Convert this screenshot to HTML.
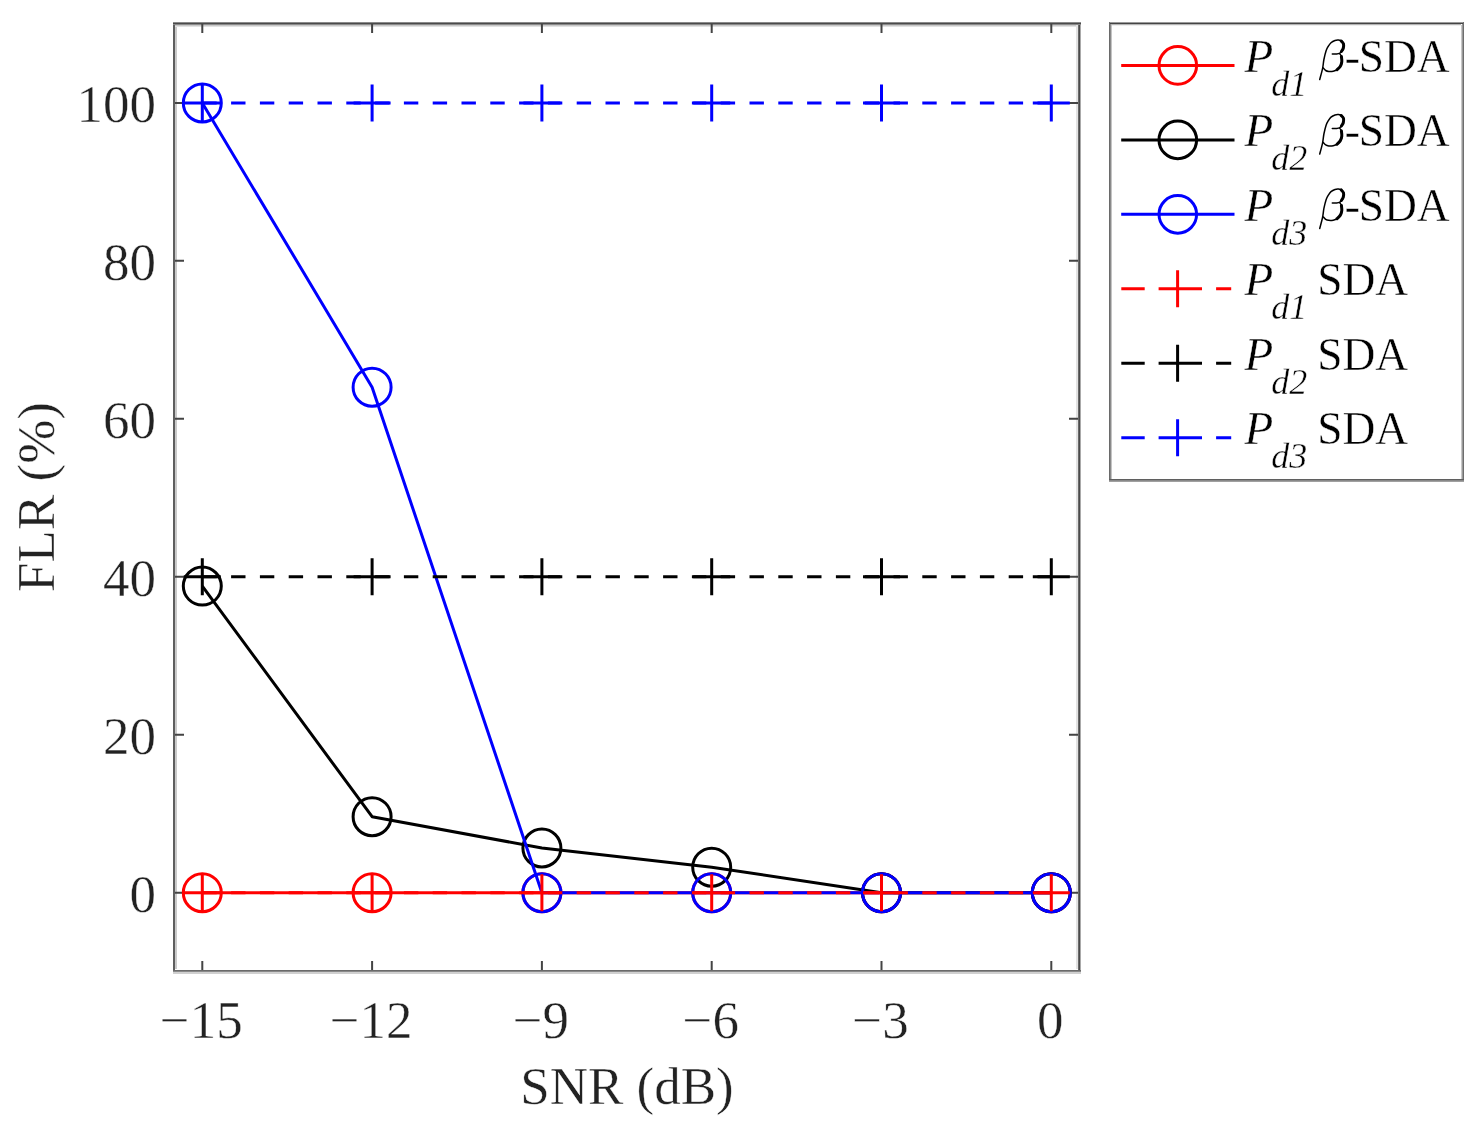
<!DOCTYPE html><html><head><meta charset="utf-8"><style>html,body{margin:0;padding:0;background:#fff;overflow:hidden}svg{display:block;will-change:transform}text{font-family:"Liberation Serif",serif;stroke:#fff;stroke-width:0.4px}</style></head><body>
<svg width="1484" height="1132" viewBox="0 0 1484 1132">
<rect x="0" y="0" width="1484" height="1132" fill="#fff"/>
<rect x="173" y="22" width="2" height="950" fill="#5e5e5e"/>
<rect x="175" y="25" width="2" height="944" fill="#cacaca"/>
<rect x="1076" y="25" width="2" height="944" fill="#e2e2e2"/>
<rect x="1078" y="22" width="1" height="950" fill="#6a6a6a"/>
<rect x="1079" y="22" width="1" height="950" fill="#4a4a4a"/>
<rect x="1080" y="22" width="1" height="950" fill="#aaaaaa"/>
<rect x="173" y="22" width="908" height="1" fill="#8a8a8a"/>
<rect x="173" y="23" width="908" height="1" fill="#4a4a4a"/>
<rect x="173" y="24" width="908" height="1" fill="#8a8a8a"/>
<rect x="175" y="25" width="901" height="1" fill="#c8c8c8"/>
<rect x="175" y="26" width="901" height="1" fill="#e2e2e2"/>
<rect x="173" y="970" width="908" height="1" fill="#6a6a6a"/>
<rect x="173" y="971" width="908" height="1" fill="#8a8a8a"/>
<rect x="173" y="972" width="908" height="2" fill="#d0d0d0"/>
<path d="M202.3 970V961M202.3 24V33M372.1 970V961M372.1 24V33M541.9 970V961M541.9 24V33M711.7 970V961M711.7 24V33M881.5 970V961M881.5 24V33M1051.3 970V961M1051.3 24V33M175 892.7H184M1078 892.7H1069M175 734.74H184M1078 734.74H1069M175 576.78H184M1078 576.78H1069M175 418.82H184M1078 418.82H1069M175 260.86H184M1078 260.86H1069M175 102.9H184M1078 102.9H1069" stroke="#444" stroke-width="2" fill="none"/>
<g font-size="53" fill="#222"><text x="156" y="912" text-anchor="end">0</text><text x="156" y="754.04" text-anchor="end">20</text><text x="156" y="596.08" text-anchor="end">40</text><text x="156" y="438.12" text-anchor="end">60</text><text x="156" y="280.16" text-anchor="end">80</text><text x="156" y="122.2" text-anchor="end">100</text><text x="201.3" y="1038" text-anchor="middle">−15</text><text x="371.1" y="1038" text-anchor="middle">−12</text><text x="540.9" y="1038" text-anchor="middle">−9</text><text x="710.7" y="1038" text-anchor="middle">−6</text><text x="880.5" y="1038" text-anchor="middle">−3</text><text x="1050.3" y="1038" text-anchor="middle">0</text></g>
<text x="627" y="1104" text-anchor="middle" font-size="53" fill="#222">SNR (dB)</text>
<text transform="translate(53.6 497) rotate(-90)" text-anchor="middle" font-size="53" fill="#222">FLR (%)</text>
<path d="M202.3 892.7L372.1 892.7L541.9 892.7L711.7 892.7L881.5 892.7L1051.3 892.7" stroke="#ff0000" stroke-width="3.0" fill="none" stroke-linejoin="round"/><circle cx="202.3" cy="892.7" r="19.0" stroke="#ff0000" stroke-width="3.0" fill="none"/><circle cx="372.1" cy="892.7" r="19.0" stroke="#ff0000" stroke-width="3.0" fill="none"/><circle cx="541.9" cy="892.7" r="19.0" stroke="#ff0000" stroke-width="3.0" fill="none"/><circle cx="711.7" cy="892.7" r="19.0" stroke="#ff0000" stroke-width="3.0" fill="none"/><circle cx="881.5" cy="892.7" r="19.0" stroke="#ff0000" stroke-width="3.0" fill="none"/><circle cx="1051.3" cy="892.7" r="19.0" stroke="#ff0000" stroke-width="3.0" fill="none"/>
<path d="M202.3 586.1L372.1 816.7L541.9 848L711.7 867.2L881.5 892.7L1051.3 892.7" stroke="#000000" stroke-width="3.0" fill="none" stroke-linejoin="round"/><circle cx="202.3" cy="586.1" r="19.0" stroke="#000000" stroke-width="3.0" fill="none"/><circle cx="372.1" cy="816.7" r="19.0" stroke="#000000" stroke-width="3.0" fill="none"/><circle cx="541.9" cy="848" r="19.0" stroke="#000000" stroke-width="3.0" fill="none"/><circle cx="711.7" cy="867.2" r="19.0" stroke="#000000" stroke-width="3.0" fill="none"/><circle cx="881.5" cy="892.7" r="19.0" stroke="#000000" stroke-width="3.0" fill="none"/><circle cx="1051.3" cy="892.7" r="19.0" stroke="#000000" stroke-width="3.0" fill="none"/>
<path d="M202.3 102.9L372.1 387.2L541.9 892.7L711.7 892.7L881.5 892.7L1051.3 892.7" stroke="#0000ff" stroke-width="3.0" fill="none" stroke-linejoin="round"/><circle cx="202.3" cy="102.9" r="19.0" stroke="#0000ff" stroke-width="3.0" fill="none"/><circle cx="372.1" cy="387.2" r="19.0" stroke="#0000ff" stroke-width="3.0" fill="none"/><circle cx="541.9" cy="892.7" r="19.0" stroke="#0000ff" stroke-width="3.0" fill="none"/><circle cx="711.7" cy="892.7" r="19.0" stroke="#0000ff" stroke-width="3.0" fill="none"/><circle cx="881.5" cy="892.7" r="19.0" stroke="#0000ff" stroke-width="3.0" fill="none"/><circle cx="1051.3" cy="892.7" r="19.0" stroke="#0000ff" stroke-width="3.0" fill="none"/>
<path d="M202.3 892.7L372.1 892.7L541.9 892.7L711.7 892.7L881.5 892.7L1051.3 892.7" stroke="#ff0000" stroke-width="3.0" fill="none" stroke-linejoin="round" stroke-dasharray="14.4 14.4"/><path d="M183.8 892.7H220.8M202.3 874.2V911.2M353.6 892.7H390.6M372.1 874.2V911.2M523.4 892.7H560.4M541.9 874.2V911.2M693.2 892.7H730.2M711.7 874.2V911.2M863 892.7H900M881.5 874.2V911.2M1032.8 892.7H1069.8M1051.3 874.2V911.2" stroke="#ff0000" stroke-width="3.0" fill="none"/>
<path d="M202.3 576.78L372.1 576.78L541.9 576.78L711.7 576.78L881.5 576.78L1051.3 576.78" stroke="#000000" stroke-width="3.0" fill="none" stroke-linejoin="round" stroke-dasharray="14.4 14.4"/><path d="M183.8 576.78H220.8M202.3 558.28V595.28M353.6 576.78H390.6M372.1 558.28V595.28M523.4 576.78H560.4M541.9 558.28V595.28M693.2 576.78H730.2M711.7 558.28V595.28M863 576.78H900M881.5 558.28V595.28M1032.8 576.78H1069.8M1051.3 558.28V595.28" stroke="#000000" stroke-width="3.0" fill="none"/>
<path d="M202.3 102.9L372.1 102.9L541.9 102.9L711.7 102.9L881.5 102.9L1051.3 102.9" stroke="#0000ff" stroke-width="3.0" fill="none" stroke-linejoin="round" stroke-dasharray="14.4 14.4"/><path d="M183.8 102.9H220.8M202.3 84.4V121.4M353.6 102.9H390.6M372.1 84.4V121.4M523.4 102.9H560.4M541.9 84.4V121.4M693.2 102.9H730.2M711.7 84.4V121.4M863 102.9H900M881.5 84.4V121.4M1032.8 102.9H1069.8M1051.3 84.4V121.4" stroke="#0000ff" stroke-width="3.0" fill="none"/>
<rect x="1109" y="22" width="355" height="460" fill="#fff"/>
<rect x="1109" y="22" width="355" height="1" fill="#9a9a9a"/>
<rect x="1109" y="23" width="355" height="1" fill="#444"/>
<rect x="1111" y="24" width="350" height="1" fill="#b4b4b4"/>
<rect x="1111" y="25" width="350" height="1" fill="#eee"/>
<rect x="1109" y="22" width="1" height="460" fill="#6a6a6a"/>
<rect x="1110" y="24" width="1" height="456" fill="#8a8a8a"/>
<rect x="1111" y="25" width="1" height="454" fill="#c4c4c4"/>
<rect x="1461" y="25" width="1" height="454" fill="#c8c8c8"/>
<rect x="1462" y="24" width="1" height="456" fill="#999"/>
<rect x="1463" y="22" width="1" height="460" fill="#6e6e6e"/>
<rect x="1109" y="479" width="355" height="1" fill="#5f5f5f"/>
<rect x="1109" y="480" width="355" height="1" fill="#888"/>
<rect x="1109" y="481" width="355" height="1" fill="#a0a0a0"/>
<path d="M1121.2 65.4H1234.5" stroke="#ff0000" stroke-width="3.0"/>
<circle cx="1177.8" cy="65.4" r="18.8" stroke="#ff0000" stroke-width="3.0" fill="none"/>
<text x="1244.4" y="72" font-size="47" font-style="italic" fill="#000">P</text><text x="1271.2" y="95.8" font-size="36" font-style="italic" fill="#000">d1</text><g transform="translate(1318.2 72)"><path d="M1.5 7.6C1.98 5.72 3.7 -0.35 4.4 -3.7C5.1 -7.05 5.12 -9.57 5.7 -12.5C6.28 -15.43 7.17 -19.09 7.9 -21.3C8.63 -23.51 9.28 -24.42 10.1 -25.75C10.92 -27.08 11.68 -28.34 12.8 -29.3C13.92 -30.26 15.55 -31.07 16.8 -31.5C18.05 -31.93 19.13 -32.05 20.3 -31.9C21.47 -31.75 22.92 -31.33 23.8 -30.6C24.68 -29.87 25.37 -28.68 25.6 -27.5C25.83 -26.32 25.5 -24.6 25.2 -23.5C24.9 -22.4 24.4 -21.68 23.8 -20.9C23.2 -20.12 22.48 -19.28 21.6 -18.8C20.72 -18.32 19.75 -18.13 18.5 -18C17.25 -17.87 14.83 -18 14.1 -18M21.6 -18.2C21.93 -17.67 23.2 -16.32 23.6 -15C24 -13.68 24.25 -11.9 24 -10.3C23.75 -8.7 22.93 -6.73 22.1 -5.4C21.27 -4.07 20.18 -3.07 19 -2.3C17.82 -1.53 16.4 -1.08 15 -0.8C13.6 -0.52 11.85 -0.48 10.6 -0.6C9.35 -0.72 8.43 -0.9 7.5 -1.5C6.57 -2.1 5.42 -3.75 5 -4.2" stroke="#000" stroke-width="1.5" fill="none" stroke-linecap="round"/><path d="M23 -31C23.38 -30.5 24.97 -29.25 25.3 -28C25.63 -26.75 25.35 -24.75 25 -23.5C24.65 -22.25 23.5 -21 23.2 -20.5M23.2 -15.5C23.27 -14.63 23.8 -11.95 23.6 -10.3C23.4 -8.65 22.8 -6.93 22 -5.6C21.2 -4.27 19.33 -2.85 18.8 -2.3" stroke="#000" stroke-width="3" fill="none" stroke-linecap="round"/></g><text x="1344.6" y="72" font-size="47" fill="#000">-</text><text x="1358.7" y="72" font-size="47" fill="#000" textLength="91" lengthAdjust="spacingAndGlyphs">SDA</text>
<path d="M1121.2 139.88H1234.5" stroke="#000000" stroke-width="3.0"/>
<circle cx="1177.8" cy="139.88" r="18.8" stroke="#000000" stroke-width="3.0" fill="none"/>
<text x="1244.4" y="146.48" font-size="47" font-style="italic" fill="#000">P</text><text x="1271.2" y="170.28" font-size="36" font-style="italic" fill="#000">d2</text><g transform="translate(1318.2 146.48)"><path d="M1.5 7.6C1.98 5.72 3.7 -0.35 4.4 -3.7C5.1 -7.05 5.12 -9.57 5.7 -12.5C6.28 -15.43 7.17 -19.09 7.9 -21.3C8.63 -23.51 9.28 -24.42 10.1 -25.75C10.92 -27.08 11.68 -28.34 12.8 -29.3C13.92 -30.26 15.55 -31.07 16.8 -31.5C18.05 -31.93 19.13 -32.05 20.3 -31.9C21.47 -31.75 22.92 -31.33 23.8 -30.6C24.68 -29.87 25.37 -28.68 25.6 -27.5C25.83 -26.32 25.5 -24.6 25.2 -23.5C24.9 -22.4 24.4 -21.68 23.8 -20.9C23.2 -20.12 22.48 -19.28 21.6 -18.8C20.72 -18.32 19.75 -18.13 18.5 -18C17.25 -17.87 14.83 -18 14.1 -18M21.6 -18.2C21.93 -17.67 23.2 -16.32 23.6 -15C24 -13.68 24.25 -11.9 24 -10.3C23.75 -8.7 22.93 -6.73 22.1 -5.4C21.27 -4.07 20.18 -3.07 19 -2.3C17.82 -1.53 16.4 -1.08 15 -0.8C13.6 -0.52 11.85 -0.48 10.6 -0.6C9.35 -0.72 8.43 -0.9 7.5 -1.5C6.57 -2.1 5.42 -3.75 5 -4.2" stroke="#000" stroke-width="1.5" fill="none" stroke-linecap="round"/><path d="M23 -31C23.38 -30.5 24.97 -29.25 25.3 -28C25.63 -26.75 25.35 -24.75 25 -23.5C24.65 -22.25 23.5 -21 23.2 -20.5M23.2 -15.5C23.27 -14.63 23.8 -11.95 23.6 -10.3C23.4 -8.65 22.8 -6.93 22 -5.6C21.2 -4.27 19.33 -2.85 18.8 -2.3" stroke="#000" stroke-width="3" fill="none" stroke-linecap="round"/></g><text x="1344.6" y="146.48" font-size="47" fill="#000">-</text><text x="1358.7" y="146.48" font-size="47" fill="#000" textLength="91" lengthAdjust="spacingAndGlyphs">SDA</text>
<path d="M1121.2 214.36H1234.5" stroke="#0000ff" stroke-width="3.0"/>
<circle cx="1177.8" cy="214.36" r="18.8" stroke="#0000ff" stroke-width="3.0" fill="none"/>
<text x="1244.4" y="220.96" font-size="47" font-style="italic" fill="#000">P</text><text x="1271.2" y="244.76" font-size="36" font-style="italic" fill="#000">d3</text><g transform="translate(1318.2 220.96)"><path d="M1.5 7.6C1.98 5.72 3.7 -0.35 4.4 -3.7C5.1 -7.05 5.12 -9.57 5.7 -12.5C6.28 -15.43 7.17 -19.09 7.9 -21.3C8.63 -23.51 9.28 -24.42 10.1 -25.75C10.92 -27.08 11.68 -28.34 12.8 -29.3C13.92 -30.26 15.55 -31.07 16.8 -31.5C18.05 -31.93 19.13 -32.05 20.3 -31.9C21.47 -31.75 22.92 -31.33 23.8 -30.6C24.68 -29.87 25.37 -28.68 25.6 -27.5C25.83 -26.32 25.5 -24.6 25.2 -23.5C24.9 -22.4 24.4 -21.68 23.8 -20.9C23.2 -20.12 22.48 -19.28 21.6 -18.8C20.72 -18.32 19.75 -18.13 18.5 -18C17.25 -17.87 14.83 -18 14.1 -18M21.6 -18.2C21.93 -17.67 23.2 -16.32 23.6 -15C24 -13.68 24.25 -11.9 24 -10.3C23.75 -8.7 22.93 -6.73 22.1 -5.4C21.27 -4.07 20.18 -3.07 19 -2.3C17.82 -1.53 16.4 -1.08 15 -0.8C13.6 -0.52 11.85 -0.48 10.6 -0.6C9.35 -0.72 8.43 -0.9 7.5 -1.5C6.57 -2.1 5.42 -3.75 5 -4.2" stroke="#000" stroke-width="1.5" fill="none" stroke-linecap="round"/><path d="M23 -31C23.38 -30.5 24.97 -29.25 25.3 -28C25.63 -26.75 25.35 -24.75 25 -23.5C24.65 -22.25 23.5 -21 23.2 -20.5M23.2 -15.5C23.27 -14.63 23.8 -11.95 23.6 -10.3C23.4 -8.65 22.8 -6.93 22 -5.6C21.2 -4.27 19.33 -2.85 18.8 -2.3" stroke="#000" stroke-width="3" fill="none" stroke-linecap="round"/></g><text x="1344.6" y="220.96" font-size="47" fill="#000">-</text><text x="1358.7" y="220.96" font-size="47" fill="#000" textLength="91" lengthAdjust="spacingAndGlyphs">SDA</text>
<path d="M1121.3 288.84H1144.7M1158.6 288.84H1202M1216.1 288.84H1231.2M1177.6 270.34V307.34" stroke="#ff0000" stroke-width="3.0"/>
<text x="1244.4" y="295.44" font-size="47" font-style="italic" fill="#000">P</text><text x="1271.2" y="319.24" font-size="36" font-style="italic" fill="#000">d1</text><text x="1317.2" y="295.44" font-size="47" fill="#000" textLength="91" lengthAdjust="spacingAndGlyphs">SDA</text>
<path d="M1121.3 363.32H1144.7M1158.6 363.32H1202M1216.1 363.32H1231.2M1177.6 344.82V381.82" stroke="#000000" stroke-width="3.0"/>
<text x="1244.4" y="369.92" font-size="47" font-style="italic" fill="#000">P</text><text x="1271.2" y="393.72" font-size="36" font-style="italic" fill="#000">d2</text><text x="1317.2" y="369.92" font-size="47" fill="#000" textLength="91" lengthAdjust="spacingAndGlyphs">SDA</text>
<path d="M1121.3 437.8H1144.7M1158.6 437.8H1202M1216.1 437.8H1231.2M1177.6 419.3V456.3" stroke="#0000ff" stroke-width="3.0"/>
<text x="1244.4" y="444.4" font-size="47" font-style="italic" fill="#000">P</text><text x="1271.2" y="468.2" font-size="36" font-style="italic" fill="#000">d3</text><text x="1317.2" y="444.4" font-size="47" fill="#000" textLength="91" lengthAdjust="spacingAndGlyphs">SDA</text>
</svg></body></html>
